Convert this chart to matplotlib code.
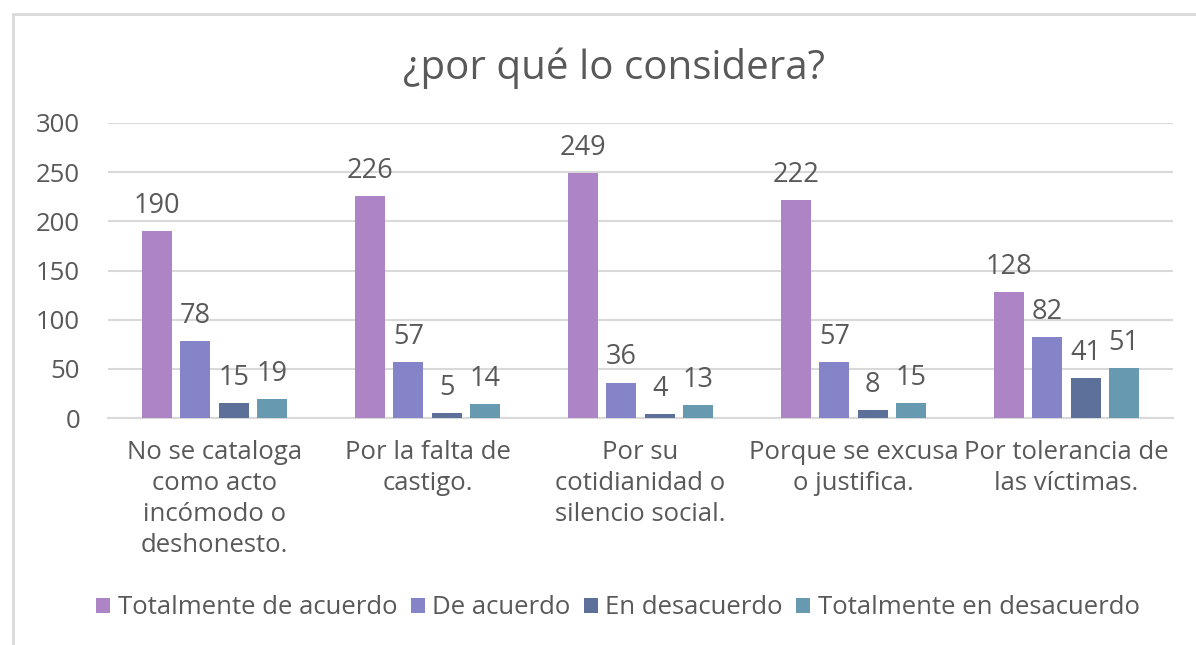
import numpy as np
import matplotlib
matplotlib.use("Agg")
from matplotlib import pyplot as plt
from matplotlib.patches import Rectangle

plt.rcParams['font.family'] = ['Open Sans', 'Noto Sans', 'DejaVu Sans']

# datos
categorias = ["No se cataloga\ncomo acto\nincómodo o\ndeshonesto.",
              "Por la falta de\ncastigo.",
              "Por su\ncotidianidad o\nsilencio social.",
              "Porque se excusa\no justifica.",
              "Por tolerancia de\nlas víctimas."]
series = ["Totalmente de acuerdo", "De acuerdo", "En desacuerdo", "Totalmente en desacuerdo"]
tot_acuerdo = [190, 226, 249, 222, 128]
de_acuerdo = [78, 57, 36, 57, 82]
en_desacuerdo = [15, 5, 4, 8, 41]
tot_desacuerdo = [19, 14, 13, 15, 51]
valores = [tot_acuerdo, de_acuerdo, en_desacuerdo, tot_desacuerdo]
colores = ["#AD84C6", "#8684C8", "#5D7099", "#6799B1"]

gris = "#595959"

fig = plt.figure(figsize=(11.96, 6.45), dpi=100)
ax = fig.add_axes([108/1196, 1 - 418/645, (1173-108)/1196, (418-123)/645])

x = np.arange(len(categorias))
ancho = 0.14
paso = 0.18
for i, (serie, vals, col) in enumerate(zip(series, valores, colores)):
    pos = x + (i - 1.5) * paso
    barras = ax.bar(pos, vals, width=ancho, color=col, label=serie, zorder=3)
    for b, v in zip(barras, vals):
        ax.annotate(str(v), (b.get_x() + b.get_width()/2, v), xytext=(0, 8),
                    textcoords="offset points", ha="center", va="bottom",
                    fontsize=19.5, color=gris)

ax.set_xlim(-0.5, len(categorias) - 0.5)
ax.set_ylim(0, 300)
ax.set_yticks(range(0, 301, 50))
ax.set_xticks(x)
ax.set_xticklabels(categorias, fontsize=18.5, color=gris, linespacing=1.32)
ax.tick_params(axis="both", length=0)
ax.tick_params(axis="y", labelsize=18.5, labelcolor=gris, pad=20)
ax.tick_params(axis="x", pad=16)
ax.grid(axis="y", color="#d9d9d9", linewidth=1.5, zorder=0)
for s in ["top", "right", "left"]:
    ax.spines[s].set_visible(False)
ax.spines["bottom"].set_color("#d9d9d9")
ax.spines["bottom"].set_linewidth(1.5)

fig.text(614/1196, 1 - 68/645, "¿por qué lo considera?", ha="center", va="center",
         fontsize=29, color=gris)

leg = fig.legend(loc="center", bbox_to_anchor=(618/1196, 1 - 608/645), ncol=4,
                 frameon=False, fontsize=18.5, labelcolor=gris, handlelength=0.55,
                 handleheight=0.55, handletextpad=0.3, columnspacing=0.5)

# marco
fig.patches.append(Rectangle((13/1196, -0.1), 1.2, 1 - 14/645 + 0.1,
                             transform=fig.transFigure, fill=False,
                             edgecolor="#d9d9d9", linewidth=2))

fig.savefig("out.png", dpi=100)
